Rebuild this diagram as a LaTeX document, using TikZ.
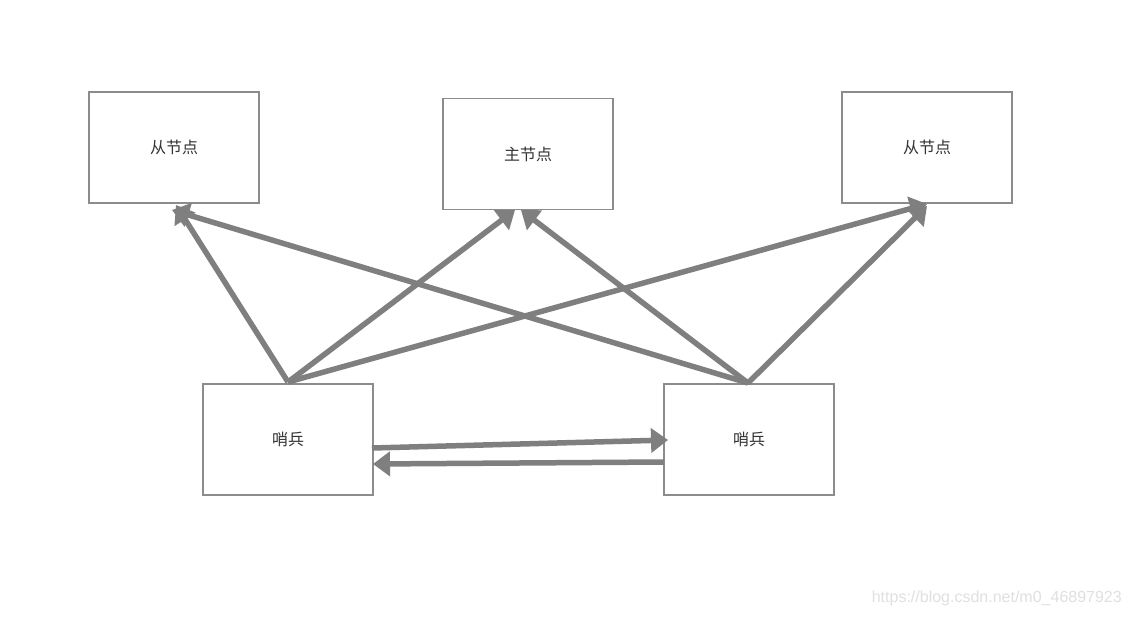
\documentclass[tikz,border=0pt]{standalone}
\usepackage{fontspec}
\newfontfamily\cjk{Noto Sans CJK SC}
\usetikzlibrary{arrows.meta}
\definecolor{boxline}{HTML}{8C8C8C}
\definecolor{arr}{HTML}{7F7F7F}
\definecolor{txt}{HTML}{333333}
\begin{document}
\begin{tikzpicture}[x=1pt,y=-1pt,
  nodebox/.style={draw=boxline,line width=1.2pt,minimum width=170pt,minimum height=111pt,inner sep=0pt,font=\cjk\fontsize{16}{18}\selectfont,text=txt},
  conn/.style={draw=arr,line width=5.5pt,-{Triangle[width=24pt,length=17pt]}}]
\useasboundingbox (0,0) rectangle (1130,616);
\fill[white] (0,0) rectangle (1130,616);
\node[nodebox] (s1) at (174,147.5) {从节点};
\node[nodebox] (m) at (528,154) {主节点};
\node[nodebox] (s2) at (927,147.5) {从节点};
\node[nodebox] (w1) at (288,439.5) {哨兵};
\node[nodebox] (w2) at (749,439.5) {哨兵};
\coordinate (w1t) at (288,382);
\coordinate (w2t) at (748,383);
\coordinate (s1a) at (176,205);
\coordinate (s1b) at (172,210);
\coordinate (ma) at (515,210);
\coordinate (mb) at (521,210);
\coordinate (s2a) at (927,204);
\coordinate (s2b) at (927,206);
\coordinate (w1r) at (372,448);
\coordinate (w2l) at (668,440);
\coordinate (w2l2) at (664,462);
\coordinate (w1r2) at (373,464);
\draw[conn] (w1t) -- (s1a);
\draw[conn] (w1t) -- (ma);
\draw[conn] (w1t) -- (s2a);
\draw[conn] (w2t) -- (s1b);
\draw[conn] (w2t) -- (mb);
\draw[conn] (w2t) -- (s2b);
\draw[conn] (w1r) -- (w2l);
\draw[conn] (w2l2) -- (w1r2);
\node[anchor=east,font=\fontspec{Liberation Sans}\fontsize{16}{18}\selectfont,text=black!12,inner sep=0pt] (wm) at (1122,598) {https://blog.csdn.net/m0\_46897923};
\end{tikzpicture}
\end{document}
